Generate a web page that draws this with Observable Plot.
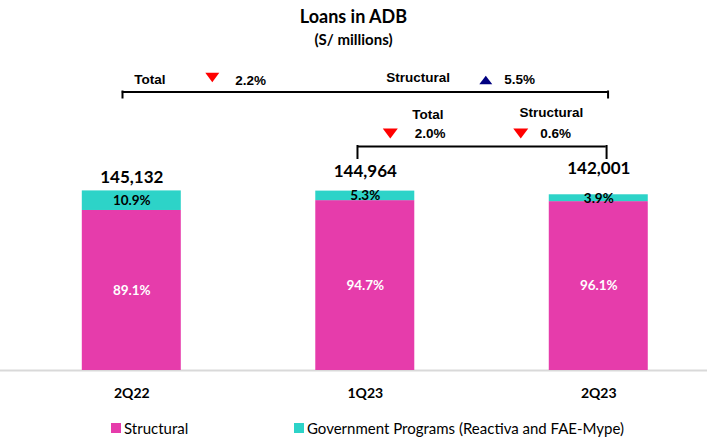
<!DOCTYPE html>
<html>
<head>
<meta charset="utf-8">
<script src="https://cdn.jsdelivr.net/npm/d3@7"></script>
<script src="https://cdn.jsdelivr.net/npm/@observablehq/plot@0.6"></script>
<style>
  body { margin: 0; background: #fff; }
  #wrap { position: relative; width: 707px; height: 438px; overflow: hidden; font-family: Lato, sans-serif; color: #000; }
  #chart { position: absolute; left: 0; top: 0; }
  .t { position: absolute; left: 0; width: 707px; text-align: center; font-weight: bold; line-height: normal; }
  .lg { position: absolute; top: 419px; font-size: 15px; line-height: normal; white-space: nowrap; }
  .sw { position: absolute; top: 423px; width: 10px; height: 10px; }
</style>
</head>
<body>
<div id="wrap">
  <div id="chart"></div>
  <div class="t" id="title" style="top:5px;font-size:18px;"></div>
  <div class="t" id="subtitle" style="top:30px;font-size:15px;"></div>
  <div class="sw" id="sw0" style="left:111px;"></div>
  <div class="lg" id="lg0" style="left:124px;"></div>
  <div class="sw" id="sw1" style="left:294px;"></div>
  <div class="lg" id="lg1" style="left:307px;"></div>
</div>
<script>
// ---------- DATA ----------
const titleText = "Loans in ADB";
const subtitleText = "(S/ millions)";
const categories = ["2Q22", "1Q23", "2Q23"];
const totals = [145132, 144964, 142001];
const structural = [129313, 137281, 136463];
const government = [15819, 7683, 5538];
const structuralShare = ["89.1%", "94.7%", "96.1%"];
const governmentShare = ["10.9%", "5.3%", "3.9%"];
const seriesNames = ["Structural", "Government Programs (Reactiva and FAE-Mype)"];
const seriesColors = ["#E63CAB", "#2DD3C8"];

// comparisons (bracket annotations)
const comparisonFrom = ["2Q22", "1Q23"];
const comparisonTo = ["2Q23", "2Q23"];
const totalChange = ["2.2%", "2.0%"];
const totalDirection = ["down", "down"];
const structuralChange = ["5.5%", "0.6%"];
const structuralDirection = ["up", "down"];

// ---------- LAYOUT ----------
const yMax = 299000;
const totalLabelDy = [-13, -20, -26];
const bracketLayout = [
  {level: 225060, tickEnd: 220210, inset: 40, tickDx: 9.3},
  {level: 181010, tickEnd: 171320, inset: 42, tickDx: 7.8}
];
const annotationLayout = [
  {text: "Total",             at: comparisonFrom[0], dx: 2.5,   y: 235200, anchor: "start"},
  {sym: totalDirection[0],    at: comparisonFrom[0], dx: 80.5,  y: 236770, r: 7},
  {text: totalChange[0],      at: comparisonFrom[0], dx: 103.5, y: 234350, anchor: "start"},
  {text: "Structural",        at: "1Q23",            dx: 21,    y: 236770, anchor: "start"},
  {sym: structuralDirection[0], at: "1Q23",          dx: 120.5, y: 234750, r: 6.5},
  {text: structuralChange[0], at: "1Q23",            dx: 139,   y: 234750, anchor: "start"},
  {text: "Total",             at: comparisonFrom[1], dx: 62.5,  y: 206870, anchor: "middle"},
  {sym: totalDirection[1],    at: comparisonFrom[1], dx: 25,    y: 191520, r: 7.5},
  {text: totalChange[1],      at: comparisonFrom[1], dx: 49.5,  y: 191520, anchor: "start"},
  {text: "Structural",        at: comparisonTo[1],   dx: -47.5, y: 208490, anchor: "middle"},
  {sym: structuralDirection[1], at: comparisonTo[1], dx: -78,   y: 191520, r: 7.5},
  {text: structuralChange[1], at: comparisonTo[1],   dx: -58.5, y: 191520, anchor: "start"}
];

// ---------- BUILD ----------
document.getElementById("title").textContent = titleText;
document.getElementById("subtitle").textContent = subtitleText;
seriesNames.forEach((s, i) => {
  document.getElementById("sw" + i).style.background = seriesColors[i];
  document.getElementById("lg" + i).textContent = s;
});

const rows = categories.flatMap((c, i) => [
  {cat: c, series: seriesNames[0], value: structural[i]},
  {cat: c, series: seriesNames[1], value: government[i]}
]);
const structLabels = categories.map((c, i) => ({cat: c, y: structural[i] / 2, text: structuralShare[i]}));
const govLabels = categories.map((c, i) => ({cat: c, y: structural[i] + government[i] / 2, text: governmentShare[i]}));
const totalLabels = categories.map((c, i) => ({cat: c, y: totals[i], text: d3.format(",")(totals[i])}));

const triangle = (dir) => ({
  draw(ctx, size) {
    const r = Math.sqrt(size / Math.PI);
    const h = r * 4 / 3;
    if (dir === "down") {
      ctx.moveTo(-r, -h / 2); ctx.lineTo(r, -h / 2); ctx.lineTo(0, h / 2); ctx.closePath();
    } else {
      ctx.moveTo(-r, h / 2); ctx.lineTo(r, h / 2); ctx.lineTo(0, -h / 2); ctx.closePath();
    }
  }
});

const annFont = "'Liberation Sans', Arial, sans-serif";
const annMarks = annotationLayout.map(a => a.sym
  ? Plot.dot([a], {x: "at", y: "y", dx: a.dx, r: a.r, symbol: triangle(a.sym),
      fill: a.sym === "down" ? "#FF0000" : "#000080", stroke: "none"})
  : Plot.text([a], {x: "at", y: "y", dx: a.dx, text: "text", textAnchor: a.anchor,
      fontFamily: annFont, fontWeight: "bold", fontSize: 13.5, fill: "#000", lineAnchor: "middle"})
);

const bracketMarks = bracketLayout.flatMap((b, i) => {
  const d = [{from: comparisonFrom[i], to: comparisonTo[i], level: b.level, tickEnd: b.tickEnd}];
  return [
    Plot.ruleY(d, {x1: "from", x2: "to", y: "level", insetLeft: b.inset, insetRight: b.inset, stroke: "#000", strokeWidth: 2}),
    Plot.ruleX(d, {x: "from", y1: "level", y2: "tickEnd", dx: -b.tickDx, stroke: "#000", strokeWidth: 2, strokeLinecap: "square"}),
    Plot.ruleX(d, {x: "to", y1: "level", y2: "tickEnd", dx: b.tickDx, stroke: "#000", strokeWidth: 2, strokeLinecap: "square"})
  ];
});

const chart = Plot.plot({
  width: 707,
  height: 410,
  marginLeft: 0,
  marginRight: 0,
  marginTop: 0,
  marginBottom: 40,
  style: {fontFamily: "Lato, sans-serif", fontSize: "14px", fontWeight: "bold", color: "#000", background: "#fff", overflow: "visible"},
  x: {domain: categories, paddingInner: 0.576, paddingOuter: 0.302, align: 0.58, round: false,
      tickSize: 0, tickPadding: 18, label: null},
  y: {domain: [0, yMax], axis: null},
  color: {domain: seriesNames, range: seriesColors},
  marks: [
    Plot.ruleY([0], {stroke: "#D9D9D9", strokeWidth: 2}),
    Plot.barY(rows, {x: "cat", y: "value", fill: "series"}),
    Plot.text(structLabels, {x: "cat", y: "y", text: "text", fill: "#fff", fontSize: 13.5, fontWeight: "bold", fontFamily: "Lato, sans-serif"}),
    Plot.text(govLabels, {x: "cat", y: "y", text: "text", fill: "#000", fontSize: 13.5, fontWeight: "bold", fontFamily: "Lato, sans-serif"}),
    ...totalLabels.map((t, i) => Plot.text([t], {x: "cat", y: "y", text: "text", dy: totalLabelDy[i], fill: "#000", fontSize: 17, fontWeight: "bold", fontFamily: "Lato, sans-serif"})),
    ...bracketMarks,
    ...annMarks
  ]
});
document.getElementById("chart").appendChild(chart);
</script>
</body>
</html>
